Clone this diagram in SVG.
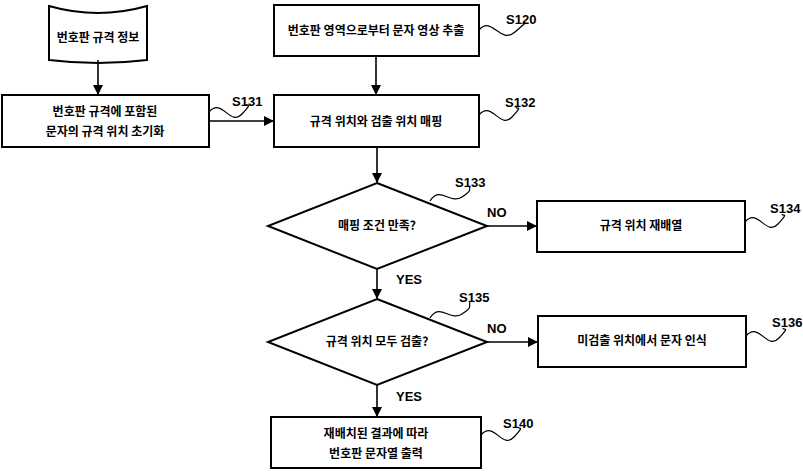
<svg xmlns="http://www.w3.org/2000/svg" width="803" height="472" viewBox="0 0 803 472">
<defs><marker id="ah" markerWidth="10" markerHeight="10" refX="9" refY="5" orient="auto" markerUnits="userSpaceOnUse"><path d="M0,0 L10,5 L0,10 Z" fill="#000"/></marker></defs>
<style>
.s{fill:#fff;stroke:#000;stroke-width:2}
.t{font-family:"Noto Sans CJK KR","Noto Sans",sans-serif;font-size:12px;font-weight:bold;text-anchor:middle;fill:#000}
.l{font-family:"Liberation Sans Narrow","Liberation Sans",sans-serif;font-size:13px;font-weight:bold;fill:#000}
.c{fill:none;stroke:#000;stroke-width:1.6}
.w{fill:none;stroke:#000;stroke-width:1.2}
</style>
<rect width="803" height="472" fill="#fff"/>
<g id="db"><path class="s" d="M49,6 Q98,20 147,6 L147,60 Q98,66 49,60 Z"/><text class="t" x="98" y="42">번호판 규격 정보</text></g>
<g id="S120"><rect class="s" x="274" y="5" width="205" height="51"/><text class="t" x="376" y="35">번호판 영역으로부터 문자 영상 추출</text><path class="w" d="M479,30 C492,15 500,45 515,32 S523,25 524,22"/><text class="l" x="506" y="24">S120</text></g>
<g id="S131"><rect class="s" x="2" y="95" width="207" height="52"/><text class="t" x="105" y="116">번호판 규격에 포함된</text><text class="t" x="105" y="136">문자의 규격 위치 초기화</text><path class="w" d="M209,112 C222,97 230,127 242,114 S246,107 246,104"/><text class="l" x="232" y="106">S131</text></g>
<g id="S132"><rect class="s" x="274" y="95" width="205" height="52"/><text class="t" x="376" y="126">규격 위치와 검출 위치 매핑</text><path class="w" d="M479,115 C492,100 500,130 512,117 S516,110 516,107"/><text class="l" x="505" y="107">S132</text></g>
<g id="S133"><path class="s" d="M377,183 L487,226 L377,269 L268,226 Z"/><text class="t" x="377" y="230">매핑 조건 만족?</text><path class="w" d="M430,201 C440,185 450,205 462,197 S468,190 470,186"/><text class="l" x="455" y="187">S133</text></g>
<g id="S134"><rect class="s" x="537" y="201" width="208" height="51"/><text class="t" x="641" y="230">규격 위치 재배열</text><path class="w" d="M745,222 C758,207 766,237 778,224 S782,217 782,214"/><text class="l" x="770" y="213">S134</text></g>
<g id="S135"><path class="s" d="M377,299 L487,342 L377,385 L268,342 Z"/><text class="t" x="377" y="346">규격 위치 모두 검출?</text><path class="w" d="M430,318 C440,302 450,322 462,314 S468,307 470,302"/><text class="l" x="459" y="302">S135</text></g>
<g id="S136"><rect class="s" x="538" y="316" width="208" height="51"/><text class="t" x="642" y="345">미검출 위치에서 문자 인식</text><path class="w" d="M746,336 C759,321 767,351 779,338 S783,331 783,328"/><text class="l" x="772" y="327">S136</text></g>
<g id="S140"><rect class="s" x="271" y="417" width="210" height="51"/><text class="t" x="376" y="438">재배치된 결과에 따라</text><text class="t" x="376" y="458">번호판 문자열 출력</text><path class="w" d="M481,435 C494,420 502,450 514,437 S518,430 518,427"/><text class="l" x="503" y="428">S140</text></g>
<g id="connectors">
<path class="c" d="M98,60 L98,94" marker-end="url(#ah)"/>
<path class="c" d="M376,56 L376,94" marker-end="url(#ah)"/>
<path class="c" d="M209,121 L273,121" marker-end="url(#ah)"/>
<path class="c" d="M377,147 L377,182" marker-end="url(#ah)"/>
<path class="c" d="M487,226 L536,226" marker-end="url(#ah)"/>
<path class="c" d="M377,269 L377,298" marker-end="url(#ah)"/>
<path class="c" d="M487,342 L537,342" marker-end="url(#ah)"/>
<path class="c" d="M377,385 L377,416" marker-end="url(#ah)"/>
<text class="l" x="487" y="217">NO</text>
<text class="l" x="487" y="333">NO</text>
<text class="l" x="396" y="284">YES</text>
<text class="l" x="396" y="401">YES</text>
</g>
</svg>
